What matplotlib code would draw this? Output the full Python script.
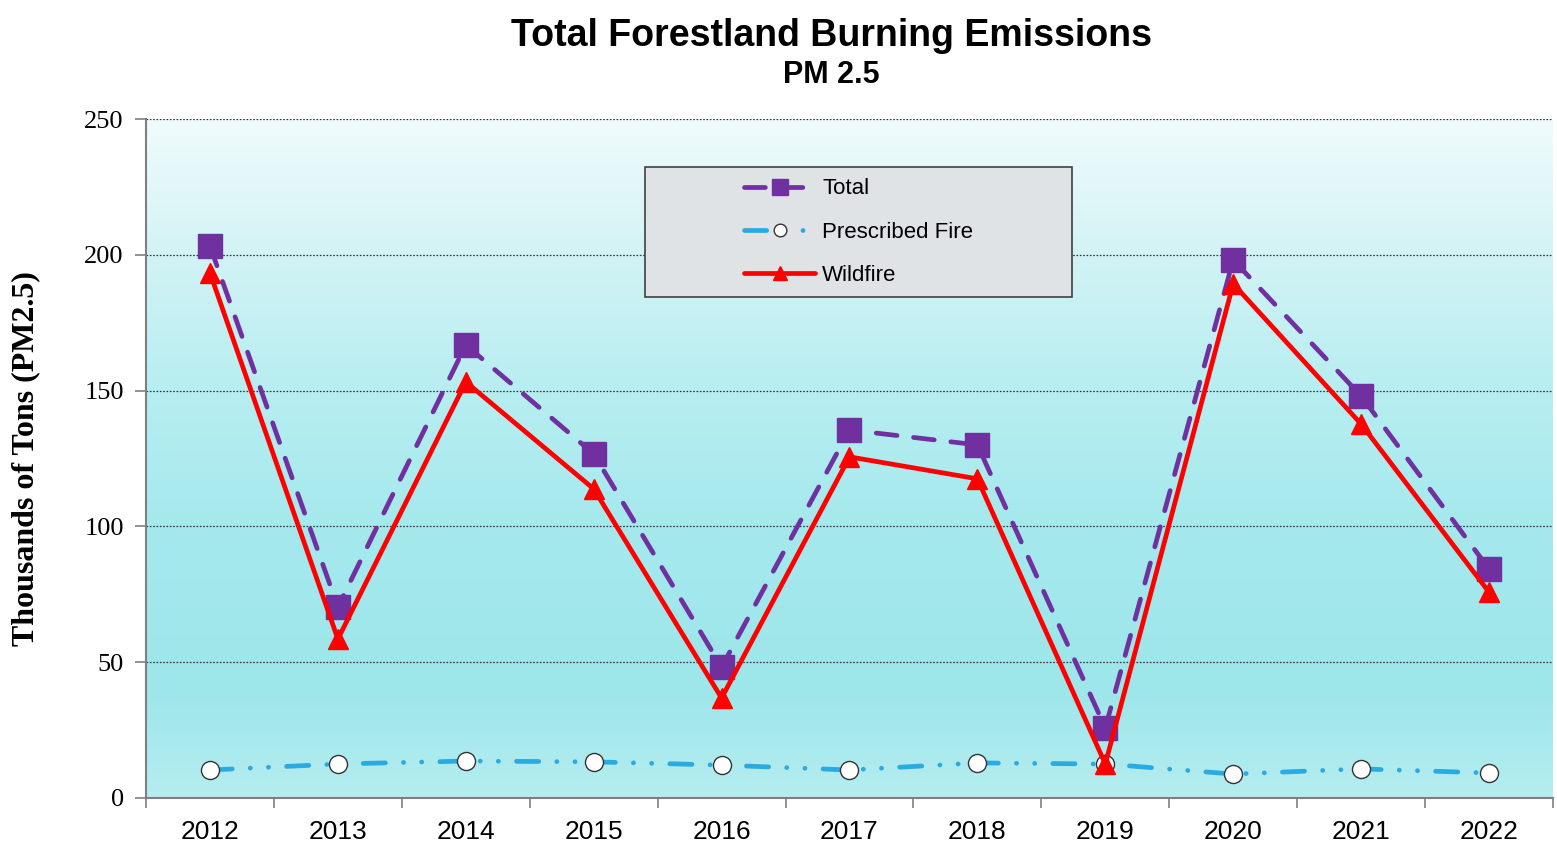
import numpy as np
import matplotlib.pyplot as plt
import matplotlib
from matplotlib.patches import Rectangle
from matplotlib.colors import LinearSegmentedColormap

matplotlib.rcParams['lines.scale_dashes'] = False

years = [2012, 2013, 2014, 2015, 2016, 2017, 2018, 2019, 2020, 2021, 2022]
total = [203.2, 70.3, 166.8, 126.7, 48.2, 135.5, 130.0, 25.8, 198.1, 148.0, 84.3]
prescribed = [10.3, 12.5, 13.6, 13.3, 12.1, 10.3, 12.9, 12.5, 8.8, 10.7, 9.2]
wildfire = [193.3, 58.5, 153.2, 113.8, 36.8, 125.6, 117.5, 12.5, 189.3, 137.7, 75.8]
yticks = [0, 50, 100, 150, 200, 250]

fig = plt.figure(figsize=(15.57, 8.47), dpi=100)
ax = fig.add_axes([0.0938, 0.0579, 0.9036, 0.8016])

# background gradient (bottom -> top)
grad = LinearSegmentedColormap.from_list('bg', [
    (0.00, '#b5edf0'), (0.16, '#9de6ea'), (0.40, '#a5e9ed'),
    (0.60, '#b7eef1'), (0.80, '#d2f3f5'), (1.00, '#f0fbfc')])
ax.imshow(np.linspace(0, 1, 256).reshape(-1, 1), cmap=grad, origin='lower',
          extent=[2011.5, 2022.5, 0, 250], aspect='auto', zorder=0)

for yv in yticks[1:]:
    ax.axhline(yv, color='#333333', lw=0.9, ls=(0, (1.2, 1.2)), zorder=1)

ax.plot(years, total, color='#7030a0', lw=3.4, ls=(0, (15, 12)), dash_capstyle='round',
        marker='s', ms=17, mfc='#7030a0', mec='#7030a0', zorder=3, label='Total')
ax.plot(years, prescribed, color='#29abe2', lw=3.4, ls=(0, (16, 13, 0.1, 13, 0.1, 13)),
        dash_capstyle='round', marker='o', ms=13, mfc='white', mec='#333333', mew=1,
        zorder=3, label='Prescribed Fire')
ax.plot(years, wildfire, color='#ff0000', lw=3.4, solid_capstyle='round',
        marker='^', ms=14, mfc='#ff0000', mec='#ff0000', zorder=4, label='Wildfire')

ax.set_xlim(2011.5, 2022.5)
ax.set_ylim(0, 250)
ax.set_yticks(yticks)
ax.set_yticklabels([str(v) for v in yticks], fontfamily='Liberation Serif', fontsize=19)
ax.set_xticks(years)
ax.set_xticklabels([str(y) for y in years], fontfamily='Liberation Sans', fontsize=19)
ax.set_xticks(np.arange(2011.5, 2023, 1), minor=True)
ax.tick_params(axis='x', which='major', length=0, pad=16)
ax.tick_params(axis='x', which='minor', length=7, color='#7f7f7f', width=1.2)
ax.tick_params(axis='y', length=8, color='#7f7f7f', width=1.2, pad=8)

for s in ['top', 'right']:
    ax.spines[s].set_visible(False)
for s in ['left', 'bottom']:
    ax.spines[s].set_color('#7f7f7f')
    ax.spines[s].set_linewidth(1.5)

ax.set_ylabel('Thousands of Tons (PM2.5)', fontfamily='Liberation Serif',
              fontweight='bold', fontsize=23)
ax.yaxis.set_label_coords(-0.075, 0.5)

fig.text(0.534, 0.958, 'Total Forestland Burning Emissions', ha='center', va='center',
         fontfamily='Liberation Sans', fontweight='bold', fontsize=27)
fig.text(0.534, 0.912, 'PM 2.5', ha='center', va='center',
         fontfamily='Liberation Sans', fontweight='bold', fontsize=22)

# legend box
box = Rectangle((0.355, 0.738), 0.303, 0.191, transform=ax.transAxes,
                facecolor='#dfe3e6', edgecolor='#404040', lw=1.2, zorder=5)
ax.add_patch(box)
leg = ax.legend(loc='center', bbox_to_anchor=(0.5065, 0.8335), frameon=False,
                prop={'family': 'Liberation Sans', 'size': 16}, handlelength=3.2,
                handletextpad=0.3, labelspacing=1.0, markerscale=0.7)
leg.set_zorder(6)

fig.savefig('out.png', dpi=100)
